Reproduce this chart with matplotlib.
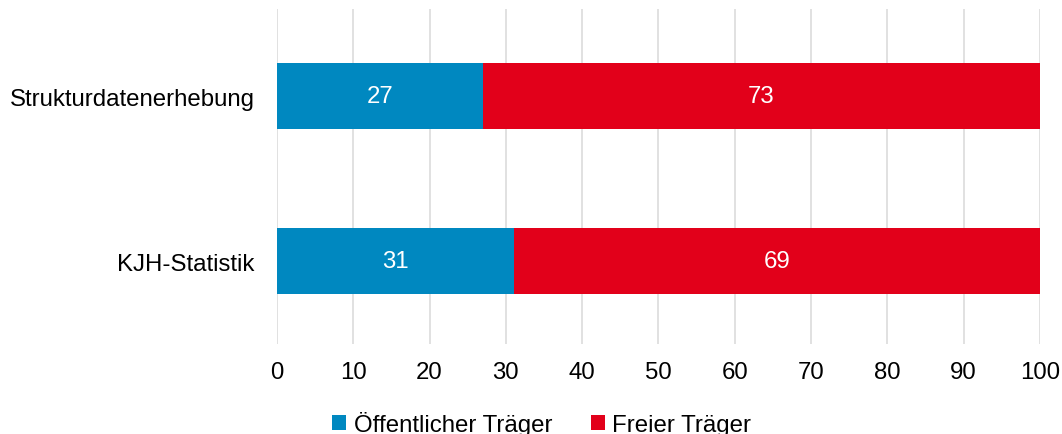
import matplotlib.pyplot as plt
import numpy as np

# Daten
categories = ['KJH-Statistik', 'Strukturdatenerhebung']
oeffentlich = [31, 27]
frei = [69, 73]
series_names = ['Öffentlicher Träger', 'Freier Träger']
colors = ['#0088C0', '#E2001A']

plt.rcParams['font.family'] = ['Liberation Sans', 'DejaVu Sans']
fs = 17.3

fig = plt.figure(figsize=(10.62, 4.35), dpi=100)
ax = fig.add_axes([0.2608, 0.2069, 0.9793 - 0.2608, 0.977 - 0.2069])

y = np.arange(len(categories))
b1 = ax.barh(y, oeffentlich, height=0.4, color=colors[0], label=series_names[0], zorder=3)
b2 = ax.barh(y, frei, left=oeffentlich, height=0.4, color=colors[1], label=series_names[1], zorder=3)

# Werte in die Balken schreiben
for vals, lefts in [(oeffentlich, [0, 0]), (frei, oeffentlich)]:
    for yi, v, l in zip(y, vals, lefts):
        ax.text(l + v / 2, yi, str(v), ha='center', va='center', color='white', fontsize=fs, zorder=4)

ax.set_xlim(0, 100)
ax.set_ylim(-0.5, 1.53)
ax.set_xticks(range(0, 101, 10))
ax.set_yticks(y)
ax.set_yticklabels(categories)
ax.tick_params(axis='both', length=0, labelsize=fs, colors='black')
ax.tick_params(axis='x', pad=12.5)
ax.tick_params(axis='y', pad=16)
ax.grid(axis='x', color='#d9d9d9', linewidth=1.1, zorder=0)
for s in ax.spines.values():
    s.set_visible(False)

fig.legend(loc='center', bbox_to_anchor=(0.51, 0.024), ncol=2, frameon=False,
           fontsize=fs, handlelength=0.6, handleheight=0.6, handletextpad=0.3,
           columnspacing=1.6)

fig.savefig('out.png', dpi=100)
